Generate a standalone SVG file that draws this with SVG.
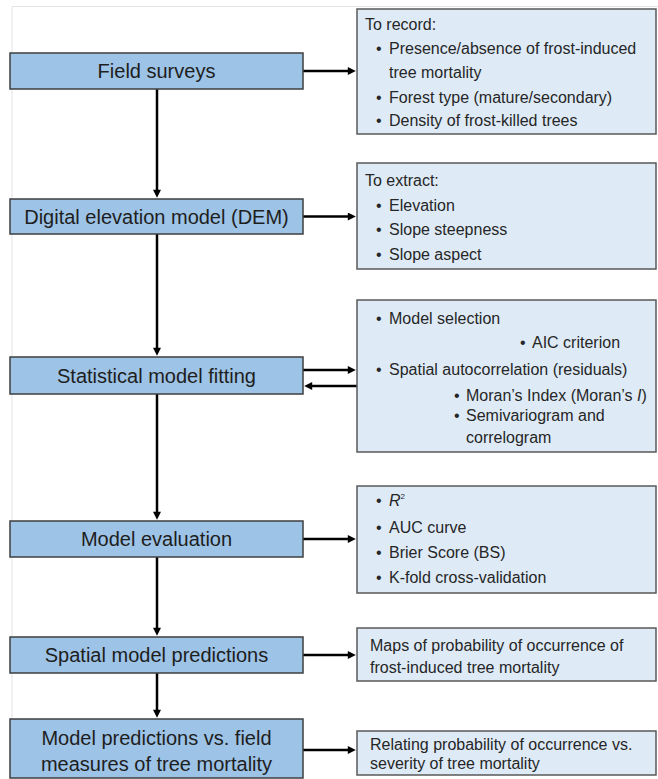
<svg xmlns="http://www.w3.org/2000/svg" width="658" height="779" viewBox="0 0 658 779">
<style>
.lb{fill:#9dc3e6;stroke:#3f3f3f;stroke-width:1.5}
.rb{fill:#deebf7;stroke:#595959;stroke-width:1.5}
.lt{font-family:"Liberation Sans",Arial,sans-serif;font-size:20px;fill:#1e1e1e;text-anchor:middle}
.rt{font-family:"Liberation Sans",Arial,sans-serif;font-size:16px;fill:#262626}
.c{stroke:#000;stroke-width:2.5;fill:none;marker-end:url(#ah)}
</style>
<defs>
<marker id="ah" viewBox="0 0 10 10" refX="4" refY="5" markerWidth="10" markerHeight="8" markerUnits="userSpaceOnUse" orient="auto"><path d="M0,0 L10,5 L0,10 z" fill="#000"/></marker>
</defs>
<rect x="0" y="0" width="658" height="779" fill="#fff"/>
<path d="M12,779 V6.5 H658" fill="none" stroke="#e4e4e4" stroke-width="1"/>
<g id="connectors">
<path class="c" d="M157,89 V193"/>
<path class="c" d="M157,234 V351"/>
<path class="c" d="M157,394 V515"/>
<path class="c" d="M157,557 V631"/>
<path class="c" d="M157,673 V713"/>
<path class="c" d="M303,71 H351"/>
<path class="c" d="M303,216.5 H351"/>
<path class="c" d="M303,370 H351"/>
<path class="c" d="M357,386 H309"/>
<path class="c" d="M303,539 H351"/>
<path class="c" d="M303,655 H351"/>
<path class="c" d="M303,750 H351"/>
</g>
<g id="field-surveys"><rect class="lb" x="10" y="53" width="293" height="36"/><text class="lt" x="156.5" y="78">Field surveys</text></g>
<g id="dem"><rect class="lb" x="10" y="199" width="293" height="35"/><text class="lt" x="156.5" y="223.5">Digital elevation model (DEM)</text></g>
<g id="stat-fitting"><rect class="lb" x="10" y="357" width="293" height="37"/><text class="lt" x="156.5" y="382.5">Statistical model fitting</text></g>
<g id="model-eval"><rect class="lb" x="10" y="521" width="293" height="36"/><text class="lt" x="156.5" y="546">Model evaluation</text></g>
<g id="spatial-pred"><rect class="lb" x="10" y="637" width="293" height="36"/><text class="lt" x="156.5" y="662">Spatial model predictions</text></g>
<g id="pred-vs-field"><rect class="lb" x="10" y="719" width="293" height="59"/><text class="lt" x="156.5" y="745">Model predictions vs. field</text><text class="lt" x="156.5" y="771">measures of tree mortality</text></g>
<g id="to-record"><rect class="rb" x="357" y="9" width="299" height="125"/>
<text class="rt" x="365" y="30">To record:</text>
<text class="rt" x="376" y="54">•</text><text class="rt" x="389" y="54">Presence/absence of frost-induced</text>
<text class="rt" x="389" y="78">tree mortality</text>
<text class="rt" x="376" y="103">•</text><text class="rt" x="389" y="103">Forest type (mature/secondary)</text>
<text class="rt" x="376" y="126">•</text><text class="rt" x="389" y="126">Density of frost-killed trees</text>
</g>
<g id="to-extract"><rect class="rb" x="357" y="163" width="299" height="106"/>
<text class="rt" x="365" y="186">To extract:</text>
<text class="rt" x="376" y="211">•</text><text class="rt" x="389" y="211">Elevation</text>
<text class="rt" x="376" y="235">•</text><text class="rt" x="389" y="235">Slope steepness</text>
<text class="rt" x="376" y="260">•</text><text class="rt" x="389" y="260">Slope aspect</text>
</g>
<g id="fitting-details"><rect class="rb" x="357" y="300" width="299" height="152"/>
<text class="rt" x="376" y="324">•</text><text class="rt" x="389" y="324">Model selection</text>
<text class="rt" x="520" y="348">•</text><text class="rt" x="532" y="348">AIC criterion</text>
<text class="rt" x="376" y="375">•</text><text class="rt" x="389" y="375">Spatial autocorrelation (residuals)</text>
<text class="rt" x="454" y="401">•</text><text class="rt" x="466" y="401">Moran’s Index (Moran’s <tspan font-style="italic">I</tspan>)</text>
<text class="rt" x="454" y="421">•</text><text class="rt" x="466" y="421">Semivariogram and</text>
<text class="rt" x="466" y="443">correlogram</text>
</g>
<g id="eval-details"><rect class="rb" x="357" y="486" width="299" height="107"/>
<text class="rt" x="376" y="506">•</text><text class="rt" x="389" y="506"><tspan font-style="italic">R</tspan><tspan font-size="8" dy="-7">2</tspan></text>
<text class="rt" x="376" y="533">•</text><text class="rt" x="389" y="533">AUC curve</text>
<text class="rt" x="376" y="558">•</text><text class="rt" x="389" y="558">Brier Score (BS)</text>
<text class="rt" x="376" y="583">•</text><text class="rt" x="389" y="583">K-fold cross-validation</text>
</g>
<g id="maps"><rect class="rb" x="357" y="628" width="299" height="53"/>
<text class="rt" x="370" y="651">Maps of probability of occurrence of</text>
<text class="rt" x="370" y="673">frost-induced tree mortality</text>
</g>
<g id="relating"><rect class="rb" x="357" y="731" width="299" height="44"/>
<text class="rt" x="370" y="750">Relating probability of occurrence vs.</text>
<text class="rt" x="370" y="769">severity of tree mortality</text>
</g>
</svg>
